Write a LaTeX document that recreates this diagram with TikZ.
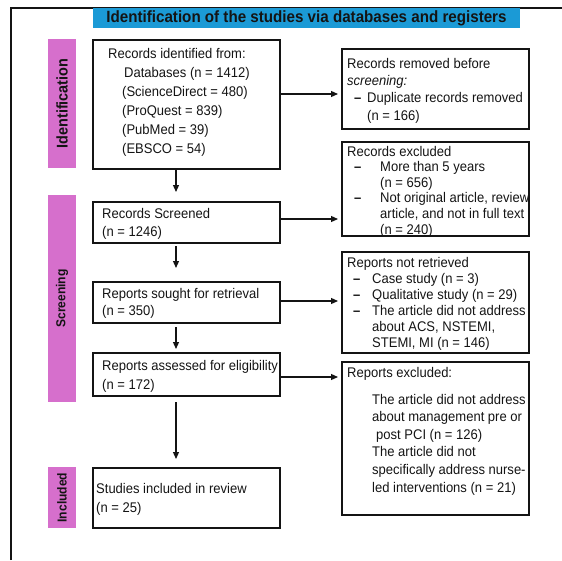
\documentclass[tikz,border=0pt]{standalone}
\usepackage{fontspec}
\setmainfont{Liberation Sans}[FakeStretch=0.93]
\usepackage{tikz}
\usetikzlibrary{positioning, arrows.meta}

\definecolor{titleblue}{RGB}{27,154,214}
\definecolor{stagepink}{RGB}{214,111,204}
\definecolor{inkgray}{RGB}{20,20,20}

\newcommand{\itemdash}{\textbf{\textendash}}

\begin{document}
\begin{tikzpicture}[x=1pt, y=-1pt]
	\tikzstyle{box} = [rectangle, draw=inkgray, line width=1.2pt, inner sep=0pt, outer sep=0pt]
	\tikzstyle{stage} = [rectangle, fill=stagepink, inner sep=0pt, rotate=90, text=inkgray]
	\tikzstyle{txt} = [anchor=west, align=left, inner sep=0pt, text=inkgray]
	\tikzstyle{arrow} = [line width=1.2pt, draw=inkgray, ->, >={Triangle[length=7pt,width=6pt]}]

	\useasboundingbox (0,0) rectangle (562,560);

	% outer frame
	\draw [line width=1.2pt, draw=inkgray] (11,560) -- (11,8) -- (562,8);

	\node [fill=titleblue, minimum width=427pt, minimum height=20pt, inner sep=0pt, text=inkgray,
		font=\fontsize{16.3}{19}\selectfont\bfseries] (title) at (306.5,18) {Identification of the studies via databases and registers};

	% stages
	\node [stage, minimum width=129pt, minimum height=28pt, font=\fontsize{15.5}{18}\selectfont\bfseries] (stident) at (62,103.5) {Identification};
	\node [stage, minimum width=207pt, minimum height=28pt, font=\fontsize{13}{16}\selectfont\bfseries] (stscreen) at (62,298.5) {Screening};
	\node [stage, minimum width=61pt, minimum height=28pt, font=\fontsize{13}{16}\selectfont\bfseries] (stincl) at (62,497.5) {Included};

	% boxes
	\node [box, minimum width=187pt, minimum height=129pt] (ident) at (186.5,104.5) {};
	\node [box, minimum width=187pt, minimum height=41pt] (screened) at (186.5,222.5) {};
	\node [box, minimum width=187pt, minimum height=41pt] (sought) at (186.5,302.5) {};
	\node [box, minimum width=187pt, minimum height=43pt] (assessed) at (186.5,374.5) {};
	\node [box, minimum width=187pt, minimum height=60pt] (included) at (186.5,498) {};
	\node [box, minimum width=187pt, minimum height=80pt] (removed) at (435.5,89) {};
	\node [box, minimum width=187pt, minimum height=94pt] (excluded) at (435.5,189) {};
	\node [box, minimum width=187pt, minimum height=101pt] (notretr) at (435.5,302.5) {};
	\node [box, minimum width=187pt, minimum height=153pt] (repexcl) at (435.5,438.5) {};

	% texts
	\node [txt, font=\fontsize{14}{19}\selectfont] (identtxt) at (108,102) {Records identified from:\\
		\hspace*{16pt}Databases (n = 1412)\\
		\hspace*{14pt}(ScienceDirect = 480)\\
		\hspace*{14pt}(ProQuest = 839)\\
		\hspace*{14pt}(PubMed = 39)\\
		\hspace*{14pt}(EBSCO = 54)};
	\node [txt, font=\fontsize{14}{18}\selectfont] (screenedtxt) at (102,223.5) {Records Screened\\(n = 1246)};
	\node [txt, font=\fontsize{14}{17}\selectfont] (soughttxt) at (102,303) {Reports sought for retrieval\\(n = 350)};
	\node [txt, font=\fontsize{14}{19}\selectfont] (assessedtxt) at (102,376) {Reports assessed for eligibility\\(n = 172)};
	\node [txt, font=\fontsize{14}{19}\selectfont] (includedtxt) at (96,499) {Studies included in review\\(n = 25)};

	\node [txt, font=\fontsize{14}{17.3}\selectfont] (removedtxt) at (347,90.5) {Records removed before\\
		\textit{screening:}\\
		\hspace*{7pt}\makebox[13pt][l]{\itemdash}Duplicate records removed\\
		\hspace*{20pt}(n = 166)};
	\node [txt, font=\fontsize{14}{15.6}\selectfont] (excludedtxt) at (347,191.5) {Records excluded\\
		\hspace*{7pt}\makebox[26pt][l]{\itemdash}More than 5 years\\
		\hspace*{33pt}(n = 656)\\
		\hspace*{7pt}\makebox[26pt][l]{\itemdash}Not original article, review\\
		\hspace*{33pt}article, and not in full text\\
		\hspace*{33pt}(n = 240)};
	\node [txt, font=\fontsize{14}{16}\selectfont] (notretrtxt) at (347,303.5) {Reports not retrieved\\
		\hspace*{6pt}\makebox[19pt][l]{\itemdash}Case study (n = 3)\\
		\hspace*{6pt}\makebox[19pt][l]{\itemdash}Qualitative study (n = 29)\\
		\hspace*{6pt}\makebox[19pt][l]{\itemdash}The article did not address\\
		\hspace*{25pt}about ACS, NSTEMI,\\
		\hspace*{25pt}STEMI, MI (n = 146)};
	\node [txt, font=\fontsize{14}{17.6}\selectfont] (repexcltxt) at (347,431) {Reports excluded:\\[9.4pt]
		\hspace*{25pt}The article did not address\\
		\hspace*{25pt}about management pre or\\
		\hspace*{29pt}post PCI (n = 126)\\
		\hspace*{25pt}The article did not\\
		\hspace*{25pt}specifically address nurse-\\
		\hspace*{25pt}led interventions (n = 21)};

	% arrows
	\coordinate (spine) at (176,0);
	\coordinate (rowa) at (0,94);
	\coordinate (rowb) at (0,219);
	\coordinate (rowc) at (0,301);
	\coordinate (rowd) at (0,377);

	\draw [arrow, shorten >=10pt] (ident.south -| spine) -- (screened.north -| spine);
	\draw [arrow, shorten <=3pt, shorten >=14pt] (screened.south -| spine) -- (sought.north -| spine);
	\draw [arrow, shorten <=4pt, shorten >=4pt] (sought.south -| spine) -- (assessed.north -| spine);
	\draw [arrow, shorten <=6pt, shorten >=9pt] (assessed.south -| spine) -- (included.north -| spine);

	\draw [arrow, shorten >=4pt] (ident.east |- rowa) -- (removed.west |- rowa);
	\draw [arrow, shorten >=4pt] (screened.east |- rowb) -- (excluded.west |- rowb);
	\draw [arrow, shorten >=4pt] (sought.east |- rowc) -- (notretr.west |- rowc);
	\draw [arrow, shorten >=4pt] (assessed.east |- rowd) -- (repexcl.west |- rowd);
\end{tikzpicture}
\end{document}
